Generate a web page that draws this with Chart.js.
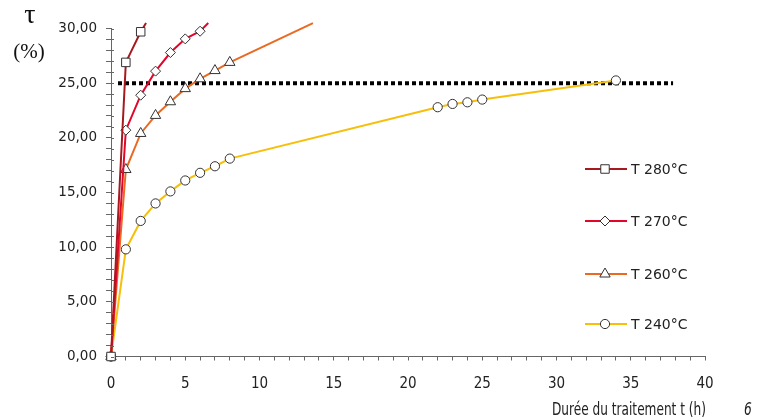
<!DOCTYPE html>
<html><head><meta charset="utf-8">
<script src="https://cdn.jsdelivr.net/npm/chart.js@4.4.1/dist/chart.umd.min.js"></script>
<style>html,body{margin:0;padding:0;background:#fff;}#wrap{width:766px;height:418px;}</style>
</head><body><div id="wrap"><canvas id="c" width="766" height="418"></canvas></div>
<script>
// ---- data ----
const seriesNames = ['T 280°C', 'T 270°C', 'T 260°C', 'T 240°C'];
const times280 = [0, 1, 2];
const tau280 = [0, 26.9, 29.7];
const tail280 = [[2.36, 30.5]];
const times270 = [0, 1, 2, 3, 4, 5, 6];
const tau270 = [0, 20.7, 23.9, 26.1, 27.8, 29.05, 29.75];
const tail270 = [[6.55, 30.5]];
const times260 = [0, 1, 2, 3, 4, 5, 6, 7, 8];
const tau260 = [0, 17.1, 20.4, 22.05, 23.3, 24.5, 25.4, 26.15, 26.9];
const tail260 = [[13.6, 30.5]];
const times240 = [0, 1, 2, 3, 4, 5, 6, 7, 8, 22, 23, 24, 25, 34];
const tau240 = [0, 9.8, 12.4, 14.0, 15.1, 16.1, 16.8, 17.4, 18.1, 22.8, 23.1, 23.25, 23.5, 25.25];
const thresholdTau = 25;
const thresholdSpan = [0.47, 37.85];
const yLabelStep = 5;
const xLabelStep = 5;
const xTitle = 'Durée du traitement t (h)';
const yTitle = ['τ', '(%)'];
const figureNumber = '6';

// ---- styles ----
const colors = ['#A5191F', '#E3062B', '#EA6A22', '#F7BE0A'];
const styles = ['rect', 'rectRot', 'triangle', 'circle'];
const radii = [6, 5, 6, 4.6];
const clipAll = {left: 12, top: 12, right: 12, bottom: 12};

function mk(i, xs, ys, tail) {
  const n = xs.length;
  const data = xs.map((x, k) => ({x: x, y: ys[k]})).concat(tail.map(p => ({x: p[0], y: p[1]})));
  return {
    label: seriesNames[i], data: data,
    borderColor: colors[i], backgroundColor: '#fff', borderWidth: 2,
    pointStyle: styles[i],
    pointRadius: c => c.dataIndex < n ? radii[i] : 0,
    pointBorderColor: '#333', pointBackgroundColor: '#fff', pointBorderWidth: 1,
    tension: 0, fill: false, clip: clipAll, order: i + 1
  };
}

const datasets = [
  mk(0, times280, tau280, tail280),
  mk(1, times270, tau270, tail270),
  mk(2, times260, tau260, tail260),
  mk(3, times240, tau240, []),
  {
    label: 'seuil', data: [{x: thresholdSpan[0], y: thresholdTau}, {x: thresholdSpan[1], y: thresholdTau}],
    borderColor: '#000', borderWidth: 4, borderDash: [4, 3], borderCapStyle: 'butt',
    pointRadius: 0, fill: false, clip: clipAll, order: 10
  }
];

function shape(ctx, style, x, y, r) {
  ctx.beginPath();
  if (style === 'rect') { const s = r * Math.SQRT1_2; ctx.rect(x - s, y - s, 2 * s, 2 * s); }
  else if (style === 'rectRot') { ctx.moveTo(x, y - r); ctx.lineTo(x + r, y); ctx.lineTo(x, y + r); ctx.lineTo(x - r, y); ctx.closePath(); }
  else if (style === 'triangle') {
    for (let k = 0; k < 3; k++) {
      const a = -Math.PI / 2 + k * 2 * Math.PI / 3;
      const px = x + r * Math.cos(a), py = y + r * Math.sin(a);
      if (k) ctx.lineTo(px, py); else ctx.moveTo(px, py);
    }
    ctx.closePath();
  }
  else { ctx.arc(x, y, r, 0, Math.PI * 2); }
  ctx.fillStyle = '#fff'; ctx.fill();
  ctx.lineWidth = 1; ctx.strokeStyle = '#333'; ctx.stroke();
}

const decor = {
  id: 'decor',
  afterDraw(chart) {
    const ctx = chart.ctx;
    const ys = chart.scales.y;
    ctx.save();
    // inward ticks on y axis
    ctx.strokeStyle = '#666'; ctx.lineWidth = 1;
    ys.ticks.forEach((t, k) => {
      const py = Math.round(ys.getPixelForTick(k)) + 0.5;
      ctx.beginPath(); ctx.moveTo(ys.right, py); ctx.lineTo(ys.right + 3, py); ctx.stroke();
    });
    // legend
    const rows = [169, 221, 274, 324];
    ctx.font = '14px "DejaVu Sans", sans-serif';
    ctx.textBaseline = 'middle'; ctx.textAlign = 'left';
    rows.forEach((ry, i) => {
      ctx.strokeStyle = colors[i]; ctx.lineWidth = 2;
      ctx.beginPath(); ctx.moveTo(585, ry); ctx.lineTo(627, ry); ctx.stroke();
      shape(ctx, styles[i], 605, ry, radii[i]);
      ctx.fillStyle = '#222';
      ctx.fillText(seriesNames[i], 631, ry + 1);
    });
    // y axis symbol
    ctx.fillStyle = '#111'; ctx.textAlign = 'center';
    ctx.font = '28px "Liberation Serif", serif';
    ctx.fillText(yTitle[0], 30, 16);
    ctx.font = '21px "Liberation Serif", serif';
    ctx.fillText(yTitle[1], 29, 52);
    // x axis title (condensed)
    ctx.fillStyle = '#222';
    ctx.font = '16px "DejaVu Sans Condensed", sans-serif';
    const w = ctx.measureText(xTitle).width;
    const sx = 154 / w;
    ctx.save();
    ctx.translate(706, 411);
    ctx.scale(sx, 1.05);
    ctx.textAlign = 'right';
    ctx.fillText(xTitle, 0, 0);
    ctx.restore();
    ctx.font = 'italic 16px "DejaVu Sans Condensed", sans-serif';
    ctx.textAlign = 'left';
    ctx.save();
    ctx.translate(744, 411);
    ctx.scale(0.85, 1.05);
    ctx.fillText(figureNumber, 0, 0);
    ctx.restore();
    ctx.restore();
  }
};

new Chart(document.getElementById('c'), {
  type: 'line',
  data: {datasets: datasets},
  options: {
    responsive: false, animation: false, events: [],
    layout: {padding: {left: 0, right: 61, top: 28.5, bottom: 0}},
    plugins: {legend: {display: false}, tooltip: {enabled: false}},
    scales: {
      x: {
        type: 'linear', min: 0, max: 40,
        afterFit: s => { s.height = 61.5; },
        ticks: {stepSize: 1, autoSkip: false, maxRotation: 0, padding: 15, color: '#222',
          font: {family: '"DejaVu Sans Condensed", "DejaVu Sans", sans-serif', size: 15},
          callback: v => (v % xLabelStep === 0 ? String(v) : '')},
        grid: {display: true, drawOnChartArea: false, tickLength: 4, color: '#666'},
        border: {color: '#666', width: 1}
      },
      y: {
        type: 'linear', min: 0, max: 30,
        afterFit: s => { s.width = 111; },
        ticks: {stepSize: 1, autoSkip: false, padding: 9, color: '#222',
          font: {family: '"DejaVu Sans", sans-serif', size: 13.5},
          callback: v => (v % yLabelStep === 0 ? v.toFixed(2).replace('.', ',') : '')},
        grid: {display: true, drawOnChartArea: false, tickLength: 5, color: '#666'},
        border: {color: '#666', width: 1}
      }
    }
  },
  plugins: [decor]
});
</script>
</body></html>
